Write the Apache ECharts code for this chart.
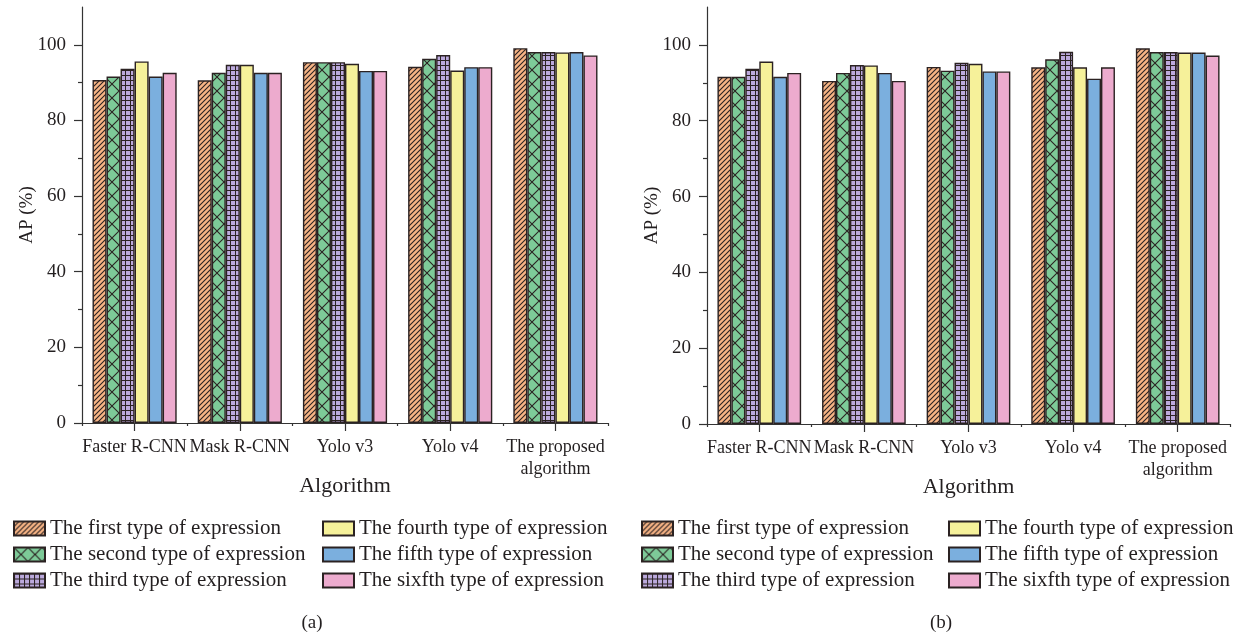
<!DOCTYPE html>
<html>
<head>
<meta charset="utf-8">
<script src="https://cdn.jsdelivr.net/npm/echarts@6/dist/echarts.min.js"></script>
<style>
html,body{margin:0;padding:0;background:#fff;}
#chart{width:1239px;height:635px;}
</style>
</head>
<body>
<div id="chart"></div>
<script>
// ---- data ----
const categories = ['Faster R-CNN', 'Mask R-CNN', 'Yolo v3', 'Yolo v4', 'The proposed\nalgorithm'];
const seriesNames = [
  'The first type of expression',
  'The second type of expression',
  'The third type of expression',
  'The fourth type of expression',
  'The fifth type of expression',
  'The sixfth type of expression'
];
const yTickLabels = [0, 20, 40, 60, 80, 100];
const yMinorTicks = [10, 30, 50, 70, 90];

// panel (a)
const aFirst  = [90.7, 90.6, 95.4, 94.2, 99.1];
const aSecond = [91.6, 92.6, 95.4, 96.3, 98.1];
const aThird  = [93.7, 94.7, 95.4, 97.3, 98.1];
const aFourth = [95.6, 94.7, 95.0, 93.2, 98.0];
const aFifth  = [91.6, 92.6, 93.1, 94.1, 98.1];
const aSixth  = [92.6, 92.6, 93.1, 94.1, 97.2];

// panel (b)
const bFirst  = [91.6, 90.5, 94.2, 94.1, 99.1];
const bSecond = [91.6, 92.6, 93.2, 96.2, 98.1];
const bThird  = [93.7, 94.7, 95.3, 98.2, 98.1];
const bFourth = [95.6, 94.6, 95.0, 94.1, 98.0];
const bFifth  = [91.6, 92.6, 93.0, 91.1, 98.0];
const bSixth  = [92.6, 90.5, 93.0, 94.1, 97.2];

const panelA = [aFirst, aSecond, aThird, aFourth, aFifth, aSixth];
const panelB = [bFirst, bSecond, bThird, bFourth, bFifth, bSixth];

// ---- styles ----
const FONT = 'Liberation Serif';
const TXT = '#231F20';
const INK = '#2b2222';

function makePattern(bg, kind) {
  const c = document.createElement('canvas');
  let s = 5;
  if (kind === 'cross') s = 14;
  if (kind === 'grid') s = 5;
  c.width = s; c.height = s;
  const g = c.getContext('2d');
  g.fillStyle = bg; g.fillRect(0, 0, s, s);
  g.strokeStyle = INK;
  if (kind === 'diag') {
    g.lineWidth = 1.1;
    g.beginPath();
    g.moveTo(-1, s + 1); g.lineTo(s + 1, -1);
    g.moveTo(-1, 1); g.lineTo(1, -1);
    g.moveTo(s - 1, s + 1); g.lineTo(s + 1, s - 1);
    g.stroke();
  } else if (kind === 'cross') {
    g.lineWidth = 1.1;
    g.beginPath();
    g.moveTo(0, 0); g.lineTo(s, s);
    g.moveTo(0, s); g.lineTo(s, 0);
    g.stroke();
  } else if (kind === 'grid') {
    g.lineWidth = 1;
    g.beginPath();
    g.moveTo(0, 0.5); g.lineTo(s, 0.5);
    g.moveTo(0.5, 0); g.lineTo(0.5, s);
    g.stroke();
  }
  return { image: c, repeat: 'repeat' };
}

const fills = [
  makePattern('#F7B485', 'diag'),
  makePattern('#7DCA98', 'cross'),
  makePattern('#BBA9DC', 'grid'),
  '#F6F19A',
  '#7BAFDE',
  '#EDABCE'
];

function panelGrid(left, right, bottom) {
  return { left: left, right: right, top: 7, bottom: bottom, containLabel: false };
}

const grids = [
  panelGrid(82, 631, 212), panelGrid(82, 631, 212),
  panelGrid(707, 9, 211), panelGrid(707, 9, 211)
];

function mainX(gridIndex) {
  return {
    type: 'category', gridIndex: gridIndex, data: categories,
    name: 'Algorithm', nameLocation: 'middle', nameGap: 52, nameMoveOverlap: false,
    nameTextStyle: { fontFamily: FONT, fontSize: 22, color: TXT, verticalAlign: 'top' },
    axisLine: { lineStyle: { color: '#333', width: 1.2 } },
    axisTick: { show: true, length: 3, lineStyle: { color: '#333', width: 1.2 } },
    axisLabel: { interval: 0, margin: 13, fontFamily: FONT, fontSize: 18, color: TXT, lineHeight: 22 },
    splitLine: { show: false }
  };
}
function overlayX(gridIndex) {
  return {
    type: 'category', gridIndex: gridIndex, data: categories,
    axisLine: { show: false },
    axisTick: { show: true, alignWithLabel: true, length: 8, lineStyle: { color: '#333', width: 1.2 } },
    axisLabel: { show: false },
    splitLine: { show: false }
  };
}
function mainY(gridIndex) {
  return {
    type: 'value', gridIndex: gridIndex, min: 0, max: 110, interval: 10,
    name: 'AP (%)', nameLocation: 'middle', nameGap: 45, nameRotate: 90, nameMoveOverlap: false,
    nameTextStyle: { fontFamily: FONT, fontSize: 19, color: TXT },
    axisLine: { show: true, lineStyle: { color: '#333', width: 1.2 } },
    axisTick: { show: true, length: 8, customValues: yTickLabels, lineStyle: { color: '#333', width: 1.2 } },
    axisLabel: { margin: 16, customValues: yTickLabels, fontFamily: FONT, fontSize: 19, color: TXT },
    splitLine: { show: false }
  };
}
function overlayY(gridIndex) {
  return {
    type: 'value', gridIndex: gridIndex, min: 0, max: 110, interval: 10,
    axisLine: { show: false },
    axisTick: { show: true, length: 4, customValues: yMinorTicks, lineStyle: { color: '#333', width: 1.2 } },
    axisLabel: { show: false },
    splitLine: { show: false }
  };
}

const series = [];
function addPanel(values, xIdx, yIdx) {
  values.forEach((arr, i) => {
    series.push({
      type: 'bar', name: seriesNames[i], xAxisIndex: xIdx, yAxisIndex: yIdx,
      data: arr, barGap: '0%', barCategoryGap: '20%',
      itemStyle: { color: fills[i], borderColor: INK, borderWidth: 1.4 },
      emphasis: { disabled: true },
      animation: false
    });
  });
}
addPanel(panelA, 0, 0);
addPanel(panelB, 2, 2);

function legend(left, names) {
  return {
    orient: 'vertical', left: left, top: 513, data: names,
    itemWidth: 31, itemHeight: 14, itemGap: 5,
    icon: 'rect',
    textStyle: { fontFamily: FONT, fontSize: 21, color: TXT },
    selectedMode: false
  };
}

const option = {
  backgroundColor: '#fff',
  animation: false,
  title: [
    { text: '(a)', left: 307, top: 609, textAlign: 'center',
      textStyle: { fontFamily: FONT, fontSize: 19, fontWeight: 'normal', color: TXT } },
    { text: '(b)', left: 936, top: 609, textAlign: 'center',
      textStyle: { fontFamily: FONT, fontSize: 19, fontWeight: 'normal', color: TXT } }
  ],
  legend: [
    legend(8, seriesNames.slice(0, 3)),
    legend(317, seriesNames.slice(3, 6)),
    legend(636, seriesNames.slice(0, 3)),
    legend(943, seriesNames.slice(3, 6))
  ],
  grid: grids,
  xAxis: [mainX(0), overlayX(1), mainX(2), overlayX(3)],
  yAxis: [mainY(0), overlayY(1), mainY(2), overlayY(3)],
  series: series
};

const chart = echarts.init(document.getElementById('chart'), null, { renderer: 'canvas' });
chart.setOption(option);
</script>
</body>
</html>
